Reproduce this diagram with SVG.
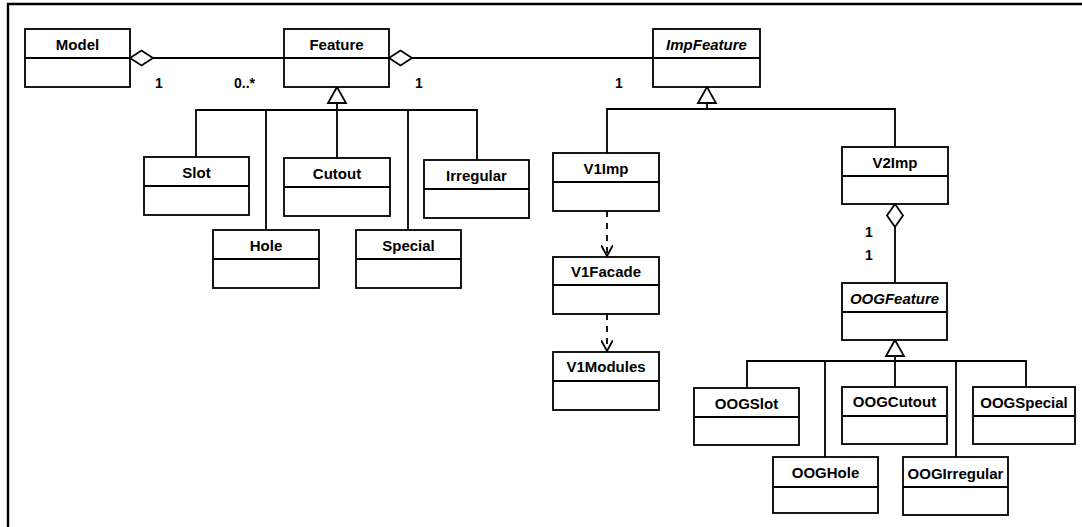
<svg xmlns="http://www.w3.org/2000/svg" width="1082" height="527" viewBox="0 0 1082 527">
<style>
.box{fill:#fff;stroke:#000;stroke-width:1.8}
.div{stroke:#000;stroke-width:1.8;fill:none}
.t{font-family:"Liberation Sans",Arial,sans-serif;font-weight:bold;font-size:15px;text-anchor:middle;fill:#000}
.i{font-style:italic}
.lbl{font-family:"Liberation Sans",Arial,sans-serif;font-weight:bold;font-size:14px;fill:#000}
.ln{stroke:#000;stroke-width:1.8;fill:none}
.dash{stroke:#000;stroke-width:1.8;fill:none;stroke-dasharray:6,6}
.dia{fill:#fff;stroke:#000;stroke-width:1.8}
.tri{fill:#fff;stroke:#000;stroke-width:1.8}
.frame{stroke:#000;stroke-width:2.4;fill:none}
</style>
<defs>
<marker id="open" viewBox="0 0 12 12" refX="11" refY="6" markerWidth="12" markerHeight="12" markerUnits="userSpaceOnUse" orient="auto">
<path d="M0,0 L11,6 L0,12" fill="none" stroke="#000" stroke-width="1.8"/>
</marker>
</defs>
<path class="frame" d="M8,527 V4 H1082"/>

<g id="connectors">
<line class="ln" x1="153" y1="58" x2="284" y2="58"/>
<polygon class="dia" points="130,58 141.5,50.5 153,58 141.5,65.5"/>
<line class="ln" x1="412" y1="58" x2="653" y2="58"/>
<polygon class="dia" points="389,58 400.5,50.5 412,58 400.5,65.5"/>
<path class="ln" d="M337,103 V110 M196,157 V110 H477 V160 M266,110 V230 M337,110 V158 M408,110 V230"/>
<polygon class="tri" points="337,87 328,103 346,103"/>
<path class="ln" d="M707,103 V109 M607,153 V109 H895 V147"/>
<polygon class="tri" points="707,87 698,103 716,103"/>
<line class="dash" x1="607" y1="211" x2="607" y2="256" marker-end="url(#open)"/>
<line class="dash" x1="607" y1="314" x2="607" y2="351" marker-end="url(#open)"/>
<line class="ln" x1="895" y1="227" x2="895" y2="283"/>
<polygon class="dia" points="895,204 903,215.5 895,227 887,215.5"/>
<path class="ln" d="M895,356 V361 M747,388 V361 H1026 V387 M825,361 V457 M895,361 V387 M956,361 V457"/>
<polygon class="tri" points="895,340 886,356 904,356"/>
<text class="lbl" x="159" y="88" text-anchor="middle">1</text>
<text class="lbl" x="234" y="88">0..*</text>
<text class="lbl" x="419" y="88" text-anchor="middle">1</text>
<text class="lbl" x="619" y="88" text-anchor="middle">1</text>
<text class="lbl" x="869" y="237" text-anchor="middle">1</text>
<text class="lbl" x="869" y="260" text-anchor="middle">1</text>
</g>

<g id="Model"><rect class="box" x="25" y="29" width="105" height="58"/><line class="div" x1="25" y1="58" x2="130" y2="58"/><text class="t" x="77.5" y="50">Model</text></g>
<g id="Feature"><rect class="box" x="284" y="29" width="105" height="58"/><line class="div" x1="284" y1="58" x2="389" y2="58"/><text class="t" x="336.5" y="50">Feature</text></g>
<g id="ImpFeature"><rect class="box" x="653" y="29" width="107" height="58"/><line class="div" x1="653" y1="58" x2="760" y2="58"/><text class="t i" x="706.5" y="50">ImpFeature</text></g>
<g id="Slot"><rect class="box" x="144" y="157" width="105" height="58"/><line class="div" x1="144" y1="186" x2="249" y2="186"/><text class="t" x="196.5" y="178">Slot</text></g>
<g id="Cutout"><rect class="box" x="284" y="158" width="106" height="58"/><line class="div" x1="284" y1="187" x2="390" y2="187"/><text class="t" x="337" y="179">Cutout</text></g>
<g id="Irregular"><rect class="box" x="424" y="160" width="105" height="58"/><line class="div" x1="424" y1="189" x2="529" y2="189"/><text class="t" x="476.5" y="181">Irregular</text></g>
<g id="Hole"><rect class="box" x="213" y="230" width="106" height="58"/><line class="div" x1="213" y1="259" x2="319" y2="259"/><text class="t" x="266" y="251">Hole</text></g>
<g id="Special"><rect class="box" x="356" y="230" width="105" height="58"/><line class="div" x1="356" y1="259" x2="461" y2="259"/><text class="t" x="408.5" y="251">Special</text></g>
<g id="V1Imp"><rect class="box" x="553" y="153" width="106" height="58"/><line class="div" x1="553" y1="182" x2="659" y2="182"/><text class="t" x="606" y="174">V1Imp</text></g>
<g id="V1Facade"><rect class="box" x="553" y="257" width="106" height="57"/><line class="div" x1="553" y1="285" x2="659" y2="285"/><text class="t" x="606" y="277">V1Facade</text></g>
<g id="V1Modules"><rect class="box" x="553" y="352" width="106" height="58"/><line class="div" x1="553" y1="381" x2="659" y2="381"/><text class="t" x="606" y="372">V1Modules</text></g>
<g id="V2Imp"><rect class="box" x="842" y="147" width="106" height="57"/><line class="div" x1="842" y1="176" x2="948" y2="176"/><text class="t" x="895" y="168">V2Imp</text></g>
<g id="OOGFeature"><rect class="box" x="842" y="283" width="105" height="57"/><line class="div" x1="842" y1="312" x2="947" y2="312"/><text class="t i" x="894.5" y="304">OOGFeature</text></g>
<g id="OOGSlot"><rect class="box" x="694" y="388" width="105" height="57"/><line class="div" x1="694" y1="417" x2="799" y2="417"/><text class="t" x="746.5" y="409">OOGSlot</text></g>
<g id="OOGCutout"><rect class="box" x="842" y="387" width="105" height="57"/><line class="div" x1="842" y1="416" x2="947" y2="416"/><text class="t" x="894.5" y="407">OOGCutout</text></g>
<g id="OOGSpecial"><rect class="box" x="973" y="387" width="102" height="57"/><line class="div" x1="973" y1="416" x2="1075" y2="416"/><text class="t" x="1024" y="408">OOGSpecial</text></g>
<g id="OOGHole"><rect class="box" x="773" y="457" width="105" height="56"/><line class="div" x1="773" y1="487" x2="878" y2="487"/><text class="t" x="825.5" y="478">OOGHole</text></g>
<g id="OOGIrregular"><rect class="box" x="903" y="457" width="105" height="58"/><line class="div" x1="903" y1="487" x2="1008" y2="487"/><text class="t" x="955.5" y="479">OOGIrregular</text></g>
</svg>
